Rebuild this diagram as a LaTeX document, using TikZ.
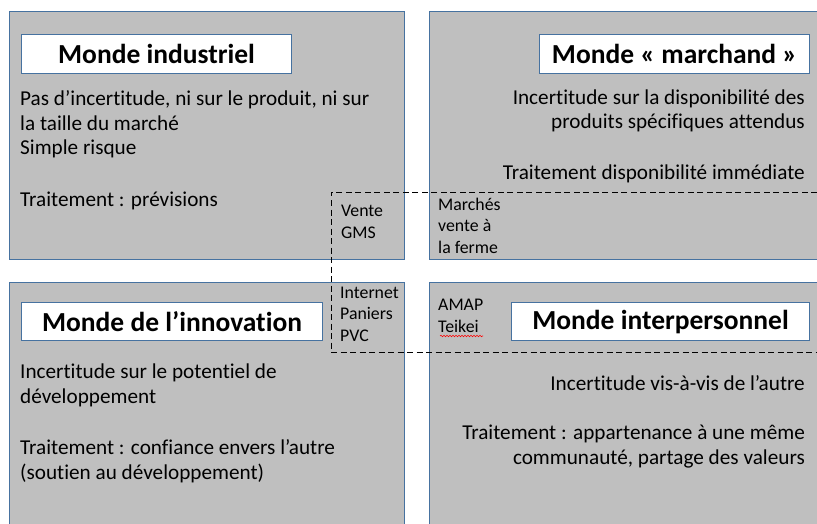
\documentclass[tikz,border=0pt]{standalone}
\usepackage{fontspec}
\setmainfont{Carlito}[Ligatures={TeX,NoCommon}]
\usetikzlibrary{positioning, decorations.pathmorphing}
\definecolor{boxgray}{RGB}{191,191,191}
\definecolor{edgeblue}{RGB}{70,114,160}

\begin{document}
\begin{tikzpicture} [x=1pt, y=-1pt,
  world/.style={rectangle, draw=edgeblue, line width=1.1pt, fill=boxgray, anchor=north west, inner sep=0pt},
  title/.style={rectangle, draw=edgeblue, line width=1.1pt, fill=white, anchor=north west, inner sep=0pt, font=\fontsize{27.5}{30}\selectfont\bfseries},
  body/.style={inner sep=0pt, font=\fontsize{21.2}{24.5}\selectfont},
  tag/.style={inner sep=0pt, align=left, anchor=base west, font=\fontsize{17.8}{21.5}\selectfont}]
  \fill[white] (0,0) rectangle (817,524);
  \useasboundingbox (0,0) rectangle (817,524);

  % the four worlds
  \draw (9,11)    node[world, minimum width=395, minimum height=248](ind) {};
  \draw (429,11)  node[world, minimum width=388, minimum height=248](mar) {};
  \draw (9,282)   node[world, minimum width=395, minimum height=250](inn) {};
  \draw (429,282) node[world, minimum width=388, minimum height=250](itp) {};

  \draw (21,34)   node[title, minimum width=270, minimum height=39](indT) {Monde industriel};
  \draw (539,34)  node[title, minimum width=270, minimum height=39](marT) {Monde « marchand »};
  \draw (21,302)  node[title, minimum width=301, minimum height=38](innT) {Monde de l’innovation};
  \draw (511,302) node[title, minimum width=298, minimum height=38](itpT) {Monde interpersonnel};

  % texts (multi-line nodes sit on the baseline of their last line)
  \draw (20,155)  node[body, align=left, anchor=base west](indA) {Pas d’incertitude, ni sur le produit, ni sur\\la taille du marché\\Simple risque};
  \draw (20,206)  node[body, anchor=base west](indB) {Traitement : prévisions};
  \draw (805,129) node[body, align=right, anchor=base east](marA) {Incertitude sur la disponibilité des\\produits spécifiques attendus};
  \draw (805,180) node[body, anchor=base east](marB) {Traitement disponibilité immédiate};
  \draw (20,403)  node[body, align=left, anchor=base west](innA) {Incertitude sur le potentiel de\\développement};
  \draw (20,479)  node[body, align=left, anchor=base west](innB) {Traitement : confiance envers l’autre\\(soutien au développement)};
  \draw (805,390) node[body, anchor=base east](itpA) {Incertitude vis-à-vis de l’autre};
  \draw (805,464) node[body, align=right, anchor=base east](itpB) {Traitement : appartenance à une même\\communauté, partage des valeurs};

  % sales channels
  \draw (341,238) node[tag](gms) {Vente\\GMS};
  \draw (438,253) node[tag](frm) {Marchés\\vente à\\la ferme};
  \draw (340,341) node[tag](web) {Internet\\Paniers\\PVC};
  \draw (438,332) node[tag](amap) {AMAP\\Teikei};
  \draw[red, line width=0.6pt, decoration={snake, amplitude=0.7pt, segment length=3pt}, decorate] (440,336) -- (483,336);

  \coordinate (dashNE) at (817,192);
  \coordinate (dashSW) at (331,352);
  \coordinate (dashSE) at (817,352);
  \draw[dash pattern=on 6pt off 3.5pt, line width=0.8pt] (dashNE) -| (dashSW) -- (dashSE);
\end{tikzpicture}
\end{document}
